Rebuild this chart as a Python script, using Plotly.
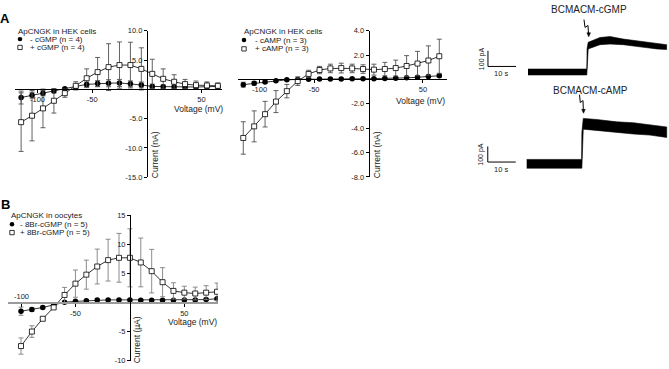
import plotly.graph_objects as go

W, H = 669, 369
FONT = "Liberation Sans, Arial, sans-serif"

# ---------------- data ----------------
voltage_hek = [-115, -105, -95, -85, -75, -65, -55, -45, -35, -25, -15, -5, 5, 15, 25, 35, 45, 55, 65]
voltage_oocyte = [-100, -90, -80, -70, -60, -50, -40, -30, -20, -10, 0, 10, 20, 30, 40, 50, 60, 70, 80]

cgmp_minus = [-1.4, -1.0, -0.65, -0.3, 0.1, 0.5, 0.85, 1.0, 1.05, 1.1, 0.95, 0.75, 0.5, 0.45, 0.4, 0.35, 0.4, 0.45, 0.5]
cgmp_minus_sem = [1.1, 0.5, 0.45, 0.3, 0.2, 0.3, 0.4, 0.5, 0.6, 0.6, 0.5, 0.5, 0.4, 0.3, 0.3, 0.2, 0.2, 0.2, 0.2]
cgmp_plus = [-5.6, -4.5, -3.25, -1.95, -0.65, 0.6, 1.9, 2.95, 3.8, 4.15, 4.15, 3.5, 2.65, 1.8, 1.3, 0.9, 0.72, 0.67, 0.6]
cgmp_plus_sem = [5.0, 4.3, 3.3, 2.1, 0.7, 0.7, 1.6, 2.5, 4.0, 3.95, 3.9, 3.6, 2.5, 1.7, 1.2, 0.8, 0.7, 0.6, 0.5]

camp_minus = [-0.43, -0.32, -0.22, -0.12, -0.03, 0.0, 0.02, 0.03, 0.04, 0.04, 0.05, 0.05, 0.06, 0.08, 0.1, 0.13, 0.18, 0.24, 0.3]
camp_minus_sem = [0.2, 0.15, 0.1, 0.08, 0.06, 0.05, 0.05, 0.05, 0.05, 0.05, 0.05, 0.05, 0.05, 0.05, 0.06, 0.06, 0.07, 0.08, 0.1]
camp_plus = [-4.8, -3.85, -2.85, -1.82, -0.96, -0.14, 0.45, 0.77, 0.9, 0.93, 0.9, 0.85, 0.8, 0.85, 0.93, 1.1, 1.3, 1.55, 1.9]
camp_plus_sem = [1.33, 1.27, 1.05, 0.9, 0.55, 0.35, 0.3, 0.3, 0.35, 0.4, 0.35, 0.35, 0.45, 0.55, 0.65, 0.85, 1.0, 1.2, 1.4]

br_minus = [-1.5, -1.2, -0.85, -0.4, 0.05, 0.2, 0.3, 0.45, 0.45, 0.45, 0.45, 0.4, 0.4, 0.4, 0.4, 0.45, 0.45, 0.5, 0.65]
br_minus_sem = [0.7, 0.35, 0.25, 0.2, 0.15, 0.15, 0.15, 0.15, 0.15, 0.15, 0.15, 0.15, 0.15, 0.15, 0.15, 0.15, 0.15, 0.15, 0.2]
br_plus = [-7.5, -5.0, -2.8, -0.85, 1.3, 3.25, 4.8, 6.2, 7.3, 7.7, 7.7, 6.9, 5.4, 3.5, 2.0, 1.7, 1.55, 1.7, 1.85]
br_plus_sem = [1.4, 1.0, 0.3, 0.3, 1.3, 2.35, 2.5, 3.0, 3.6, 4.2, 5.0, 4.2, 3.75, 2.5, 1.4, 1.1, 1.1, 1.2, 1.5]

# recordings (envelope of noisy current band), time in s, current in pA
rec_cgmp_t = [0, 21.0, 21.1, 21.5, 25.7, 29.3, 34.0, 40.0, 46.0, 49.5]
rec_cgmp_hi = [19, 19, 150, 190, 221, 227, 211, 196, 181, 175]
rec_cgmp_lo = [-19, -19, -19, 148, 175, 179, 175, 161, 148, 144]
rec_camp_t = [0, 19.6, 19.7, 20.2, 25.0, 32.1, 38.1, 44.0, 50.0]
rec_camp_hi = [28, 28, 200, 291, 284, 269, 263, 249, 236]
rec_camp_lo = [-28, -28, -28, 222, 216, 201, 191, 184, 169]
scale_time_s = 10
scale_current_pA = 100

tick_A1 = [-15, -10, -5, 5, 10]
tick_A2 = [-8, -6, -4, -2, 2, 4]
tick_B = [-10, -5, 5, 10, 15]


def px(x):
    return x / W


def py(y):
    return 1 - y / H


fig = go.Figure()

ERR_A = "#505050"
ERR_B = "#808080"


def add_series(x, y, err, xa, ya, filled, errcol):
    if filled:
        marker = dict(symbol="circle", size=5.5, color="black", line=dict(width=0))
    else:
        marker = dict(symbol="square", size=5, color="white", line=dict(width=0.8, color="black"))
    fig.add_trace(go.Scatter(
        x=x, y=y, mode="lines+markers", xaxis=xa, yaxis=ya,
        marker=marker, line=dict(color="black", width=0.8),
        error_y=dict(type="data", array=err, visible=True, color=errcol, thickness=0.9, width=2.5),
        showlegend=False, hoverinfo="skip"))


add_series(voltage_hek, cgmp_minus, cgmp_minus_sem, "x", "y", True, ERR_A)
add_series(voltage_hek, cgmp_plus, cgmp_plus_sem, "x", "y", False, ERR_A)
add_series(voltage_hek, camp_minus, camp_minus_sem, "x2", "y2", True, ERR_A)
add_series(voltage_hek, camp_plus, camp_plus_sem, "x2", "y2", False, ERR_A)
add_series(voltage_oocyte, br_minus, br_minus_sem, "x3", "y3", True, ERR_B)
add_series(voltage_oocyte, br_plus, br_plus_sem, "x3", "y3", False, ERR_B)


def add_band(t, hi, lo, xa, ya):
    fig.add_trace(go.Scatter(
        x=list(t) + list(t)[::-1], y=list(hi) + list(lo)[::-1], xaxis=xa, yaxis=ya,
        mode="lines", fill="toself", fillcolor="black", line=dict(color="black", width=0.6),
        showlegend=False, hoverinfo="skip"))


add_band(rec_cgmp_t, rec_cgmp_hi, rec_cgmp_lo, "x4", "y4")
add_band(rec_camp_t, rec_camp_hi, rec_camp_lo, "x5", "y5")


def add_scalebar(t0, i0, xa, ya):
    fig.add_trace(go.Scatter(
        x=[t0, t0, t0 + scale_time_s], y=[i0 + scale_current_pA, i0, i0],
        xaxis=xa, yaxis=ya, mode="lines", line=dict(color="black", width=1),
        showlegend=False, hoverinfo="skip"))


add_scalebar(-14.3, 35.6, "x4", "y4")
add_scalebar(-13.9, 11.25, "x5", "y5")

tickfont = dict(family=FONT, size=7.5, color="#222")


def vaxis(dom_px, rng, pos_py, tickvals, ticktext, linecolor="black", lw=0.8):
    return dict(domain=[px(dom_px[0]), px(dom_px[1])], range=rng, anchor="free", position=py(pos_py),
                showgrid=False, zeroline=False, showline=True, linecolor=linecolor, linewidth=lw,
                ticks="outside", ticklen=3, tickwidth=0.8, tickcolor="black",
                tickvals=tickvals, ticktext=ticktext, tickfont=tickfont)


def iaxis(dom_py, rng, pos_px, tickvals, ticktext):
    return dict(domain=[py(dom_py[1]), py(dom_py[0])], range=rng, anchor="free", position=px(pos_px),
                showgrid=False, zeroline=False, showline=True, linecolor="black", linewidth=0.8,
                ticks="outside", ticklen=3, tickwidth=0.8, tickcolor="black",
                tickvals=tickvals, ticktext=ticktext, tickfont=tickfont)


fig.update_layout(
    xaxis=vaxis((15, 222), [(15 - 146.8) / 1.093, (222 - 146.8) / 1.093], 87.5,
                [-100, -50, 50], ["-100", "-50", "50"]),
    yaxis=iaxis((27.5, 177.5), [-15, 10], 146.8, tick_A1, ["%.1f" % v for v in tick_A1]),
    xaxis2=vaxis((238, 447), [(238 - 368.5) / 1.089, (447 - 368.5) / 1.089], 77.3,
                 [-100, -50, 50], ["-100", "-50", "50"]),
    yaxis2=iaxis((27.3, 177.3), [-8, 4], 368.5, tick_A2, ["%.1f" % v for v in tick_A2]),
    xaxis3=vaxis((8, 218), [(8 - 129.9) / 1.089, (218 - 129.9) / 1.089], 306,
                 [-100, -50, 50], ["", "-50", "50"], linecolor="#9a9a9a", lw=2),
    yaxis3=iaxis((216.7, 365.5), [-10, 15], 129.9, tick_B, [str(v) for v in tick_B]),
    xaxis4=dict(domain=[px(475), px(669)], range=[(475 - 528) / 2.8, (669 - 528) / 2.8],
                visible=False, anchor="y4"),
    yaxis4=dict(domain=[py(90), py(0)], range=[(69.7 - 90) / 0.16, 69.7 / 0.16],
                visible=False, anchor="x4"),
    xaxis5=dict(domain=[px(475), px(669)], range=[(475 - 526.7) / 2.8, (669 - 526.7) / 2.8],
                visible=False, anchor="y5"),
    yaxis5=dict(domain=[py(185), py(90)], range=[(163.8 - 185) / 0.16, (163.8 - 90) / 0.16],
                visible=False, anchor="x5"),
)

ann = []


def text(x, y, s, size=8, anchor="center", angle=0, bold=False, color="#222"):
    ann.append(dict(x=px(x), y=py(y), xref="paper", yref="paper", text=("<b>%s</b>" % s) if bold else s,
                    showarrow=False, xanchor=anchor, yanchor="middle", textangle=angle,
                    font=dict(family=FONT, size=size, color=color), borderpad=0))


text(5, 15, "A", size=13, bold=True, color="black")
text(5, 205, "B", size=13, bold=True, color="black")

# axis titles
text(198, 108, "Voltage (mV)", size=8.5)
text(155, 155, "Current (nA)", size=8.5, angle=-90)
text(420, 99, "Voltage (mV)", size=8.5)
text(377, 155, "Current (nA)", size=8.5, angle=-90)
text(192, 326, "Voltage (mV)", size=8.5)
text(136.7, 344, "Current (µA)", size=8.5, angle=-90)
text(21.7, 300, "-100", size=7.5)

# legends
text(17, 28, "ApCNGK in HEK cells", anchor="left")
text(29, 36, "- cGMP (n = 4)", anchor="left")
text(29, 44.5, "+ cGMP (n = 4)", anchor="left")
text(243, 28, "ApCNGK in HEK cells", anchor="left")
text(254, 37, "- cAMP (n = 3)", anchor="left")
text(254, 46, "+ cAMP (n = 3)", anchor="left")
text(10, 217, "ApCNGK in oocytes", anchor="left")
text(19, 225.7, "- 8Br-cGMP (n = 5)", anchor="left")
text(19, 234.3, "+ 8Br-cGMP (n = 5)", anchor="left")

# recordings labels
text(589, 5.5, "BCMACM-cGMP", size=10)
text(590, 88.3, "BCMACM-cAMP", size=10)
text(481.5, 56, "100 pA", size=7, angle=-90)
text(501, 71.5, "10 s", size=7.5)
text(481.5, 154, "100 pA", size=7, angle=-90)
text(501, 169.5, "10 s", size=7.5)

shapes = []


def circ(x, y, r=2.3):
    shapes.append(dict(type="circle", xref="paper", yref="paper", x0=px(x - r), x1=px(x + r),
                       y0=py(y + r), y1=py(y - r), fillcolor="black", line=dict(width=0)))


def sq(x, y, r=2.2):
    shapes.append(dict(type="rect", xref="paper", yref="paper", x0=px(x - r), x1=px(x + r),
                       y0=py(y + r), y1=py(y - r), fillcolor="white", line=dict(width=0.8, color="black")))


circ(20, 36)
sq(20, 44.5)
circ(244, 37)
sq(244, 46)
circ(12, 225.7)
sq(12, 234.3)


def path(pts, closed=False):
    s = "M " + " L ".join("%.5f,%.5f" % (px(x), py(y)) for x, y in pts)
    return s + (" Z" if closed else "")


def bolt(pts, tip, base_y):
    shapes.append(dict(type="path", xref="paper", yref="paper", path=path(pts),
                       line=dict(color="black", width=1)))
    tx, ty = tip
    shapes.append(dict(type="path", xref="paper", yref="paper",
                       path=path([(tx - 1.8, base_y), (tx + 1.8, base_y), (tx, ty)], closed=True),
                       fillcolor="black", line=dict(color="black", width=0.5)))


bolt([(584, 16), (585, 24), (588, 22), (588.5, 30)], (588.7, 33.5), 29.5)
bolt([(579.5, 93), (580.3, 101), (583, 99), (583.3, 108)], (583.5, 112), 108)

fig.update_layout(
    width=W, height=H, margin=dict(l=0, r=0, t=0, b=0),
    paper_bgcolor="white", plot_bgcolor="white", showlegend=False,
    annotations=ann, shapes=shapes,
    font=dict(family=FONT, size=8, color="#222"),
)

fig.write_html("out.html", config={"displayModeBar": False},
               post_script="document.body.style.margin='0';document.body.style.overflow='hidden';")
